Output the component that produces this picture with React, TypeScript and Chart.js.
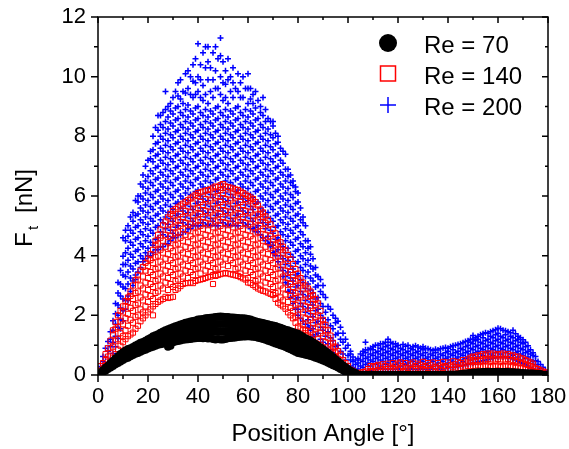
import React, { useEffect, useRef } from 'react';
import { Chart, registerables } from 'chart.js';

Chart.register(...registerables);

const X_MIN = 0;
const X_MAX = 180;
const X_STEP = 20;
const X_MINOR = 10;
const Y_MIN = 0;
const Y_MAX = 12;
const Y_STEP = 2;
const Y_MINOR = 1;

const seriesLabels = ['Re = 70', 'Re = 140', 'Re = 200'];
const xTitle = 'Position Angle [°]';
const yTitleMain = 'F';
const yTitleSub = 't';
const yTitleUnit = '[nN]';

// [position angle in degrees, tangential force values in nN]
const re70: [number, number[]][] = [
  [1,[0.07]],[2,[0.1,0.16]],[3,[0.14,0.24]],[4,[0.2,0.31]],[5,[0.25,0.39,0.33]],
  [6,[0.3,0.47,0.38]],[7,[0.36,0.55,0.46]],[8,[0.4,0.62,0.52]],[9,[0.45,0.7,0.58]],[10,[0.5,0.76,0.63]],
  [11,[0.55,0.82,0.68]],[12,[0.58,0.87,0.73]],[13,[0.63,0.9,0.77]],[14,[0.67,0.94,0.8]],[15,[0.71,0.99,0.85]],
  [16,[0.74,1.03,0.88]],[17,[0.78,1.08,0.93]],[18,[0.82,1.11,0.97]],[19,[0.85,1.15,1.0]],[20,[0.89,1.2,1.05]],
  [21,[0.92,1.24,1.08]],[22,[0.95,1.3,1.12]],[23,[0.98,1.33,1.16]],[24,[1.01,1.37,1.2]],[25,[1.03,1.42,1.22]],
  [26,[1.05,1.46,1.26]],[27,[1.07,1.5,1.29]],[28,[0.95,1.53,1.15,1.34]],[29,[0.98,1.57,1.18,1.38]],[30,[1.1,1.6,1.28,1.45]],
  [31,[1.12,1.63,1.3,1.47]],[32,[1.14,1.66,1.33,1.5]],[33,[1.16,1.69,1.35,1.52]],[34,[1.18,1.72,1.37,1.55]],[35,[1.19,1.75,1.39,1.57]],
  [36,[1.2,1.77,1.4,1.59]],[37,[1.21,1.79,1.41,1.61]],[38,[1.22,1.81,1.42,1.63]],[39,[1.23,1.83,1.43,1.64]],[40,[1.24,1.86,1.45,1.66]],
  [41,[1.24,1.87,1.45,1.67]],[42,[1.23,1.88,1.46,1.68]],[43,[1.24,1.9,1.47,1.69]],[44,[1.22,1.91,1.46,1.69]],[45,[1.23,1.92,1.47,1.7]],
  [46,[1.21,1.93,1.46,1.7]],[47,[1.19,1.94,1.45,1.7]],[48,[1.21,1.95,1.46,1.71]],[49,[1.19,1.96,1.45,1.71]],[50,[1.19,1.95,1.45,1.71]],
  [51,[1.21,1.94,1.46,1.71]],[52,[1.23,1.94,1.47,1.71]],[53,[1.24,1.93,1.48,1.71]],[54,[1.25,1.93,1.49,1.71]],[55,[1.26,1.92,1.49,1.71]],
  [56,[1.27,1.91,1.5,1.71]],[57,[1.28,1.9,1.5,1.7]],[58,[1.29,1.9,1.5,1.7]],[59,[1.29,1.89,1.5,1.7]],[60,[1.3,1.88,1.5,1.69]],
  [61,[1.29,1.86,1.49,1.68]],[62,[1.28,1.83,1.48,1.66]],[63,[1.27,1.8,1.46,1.64]],[64,[1.25,1.78,1.44,1.62]],[65,[1.23,1.76,1.42,1.6]],
  [66,[1.21,1.74,1.4,1.58]],[67,[1.18,1.72,1.37,1.55]],[68,[1.15,1.7,1.34,1.52]],[69,[1.12,1.68,1.31,1.5]],[70,[1.09,1.66,1.29,1.48]],
  [71,[1.06,1.64,1.26,1.45]],[72,[1.03,1.61,1.23,1.42]],[73,[1.0,1.58,1.2,1.39]],[74,[0.97,1.55,1.17,1.36]],[75,[0.94,1.52,1.14,1.33]],
  [76,[0.9,1.5,1.1,1.3]],[77,[0.86,1.47,1.06,1.27]],[78,[0.82,1.44,1.03,1.24]],[79,[0.78,1.41,0.99,1.2]],[80,[0.74,1.38,0.95,1.17]],
  [81,[0.72,1.33,0.92,1.13]],[82,[0.7,1.28,0.89,1.09]],[83,[0.68,1.23,0.86,1.05]],[84,[0.66,1.19,0.84,1.01]],[85,[0.64,1.15,0.81,0.98]],
  [86,[0.61,1.1,0.78,0.94]],[87,[0.58,1.04,0.74,0.89]],[88,[0.55,0.98,0.7,0.84]],[89,[0.52,0.92,0.66,0.79]],[90,[0.49,0.86,0.62,0.74]],
  [91,[0.45,0.8,0.58,0.69]],[92,[0.41,0.74,0.52,0.63]],[93,[0.37,0.67,0.52]],[94,[0.33,0.6,0.46]],[95,[0.29,0.53,0.41]],
  [96,[0.25,0.46,0.35]],[97,[0.2,0.39,0.3]],[98,[0.16,0.32,0.24]],[99,[0.12,0.26,0.19]],[100,[0.08,0.2,0.14]],
  [101,[0.06,0.14]],[102,[0.04,0.1]],[103,[0.03,0.07]],[104,[0.01]],[105,[0.01]],[106,[0.0]],[107,[0.01]],[108,[0.0]],[109,[0.01]],[110,[0.0]],
  [111,[0.01]],[112,[0.0]],[113,[0.01]],[114,[0.0]],[115,[0.01]],[116,[0.0]],[117,[0.01]],[118,[0.0]],[119,[0.01]],[120,[0.0]],
  [121,[0.01]],[122,[0.0]],[123,[0.01]],[124,[0.0]],[125,[0.01]],[126,[0.0]],[127,[0.01]],[128,[0.0]],[129,[0.01]],[130,[0.0]],
  [131,[0.01]],[132,[0.0]],[133,[0.01]],[134,[0.0]],[135,[0.01]],[136,[0.0]],[137,[0.01]],[138,[0.0]],[139,[0.01]],[140,[0.01]],
  [141,[0.02]],[142,[0.01]],[143,[0.02]],[144,[0.02]],[145,[0.03]],[146,[0.02,0.04]],[147,[0.03,0.05]],[148,[0.03,0.06]],[149,[0.03,0.07]],[150,[0.03,0.08]],
  [151,[0.04,0.08]],[152,[0.03,0.09]],[153,[0.04,0.09]],[154,[0.03,0.1]],[155,[0.04,0.1]],[156,[0.03,0.1]],[157,[0.04,0.1]],[158,[0.03,0.1]],[159,[0.04,0.1]],[160,[0.03,0.1]],
  [161,[0.04,0.1]],[162,[0.03,0.1]],[163,[0.04,0.1]],[164,[0.03,0.1]],[165,[0.04,0.09]],[166,[0.03,0.09]],[167,[0.04,0.08]],[168,[0.03,0.08]],[169,[0.03,0.07]],[170,[0.03,0.07]],
  [171,[0.02,0.06]],[172,[0.02,0.06]],[173,[0.02,0.05]],[174,[0.02,0.05]],[175,[0.02,0.04]],[176,[0.01,0.04]],[177,[0.01,0.03]],[178,[0.01]],[179,[0.01]],
];

const re140: [number, number[]][] = [
  [1,[0.15,0.3]],[2,[0.2,0.4]],[3,[0.3,0.5,0.7]],[4,[0.35,0.62,0.9]],[5,[0.45,0.65,0.9,1.15]],
  [6,[0.58,0.95,1.35,1.5]],[7,[0.7,1.15,1.55,1.78]],[8,[0.85,1.2,1.6,2.0]],[9,[0.98,1.4,1.8,2.15]],[10,[1.1,1.3,1.7,2.1,2.3]],
  [11,[1.2,1.5,1.9,2.3,2.48]],[12,[1.3,1.65,2.05,2.45,2.6]],[13,[1.36,1.85,2.25,2.65,2.8]],[14,[1.42,1.75,2.15,2.55,3.0]],[15,[1.55,1.95,2.35,2.75,3.18]],
  [16,[1.65,2.0,2.4,2.8,3.2,3.34]],[17,[1.8,2.2,2.6,3.0,3.5]],[18,[1.9,2.1,2.5,2.9,3.3,3.62]],[19,[2.0,2.3,2.7,3.1,3.5,3.76]],[20,[2.1,2.45,2.85,3.25,3.65,3.9]],
  [21,[2.2,2.65,3.05,3.45,3.85,4.05]],[22,[2.0,2.3,2.55,2.95,3.35,3.75,4.2]],[23,[2.38,2.75,3.15,3.55,3.95,4.35,4.5]],[24,[2.45,2.8,3.2,3.6,4.0,4.4,4.7]],[25,[2.5,3.0,3.4,3.8,4.2,4.6,4.88]],
  [26,[2.55,2.9,3.3,3.7,4.1,4.5,5.02]],[27,[2.62,3.1,3.5,3.9,4.3,4.7,5.15]],[28,[2.58,2.85,3.25,3.65,4.05,4.45,4.85,5.28]],[29,[2.6,3.05,3.45,3.85,4.25,4.65,5.05,5.4]],[30,[2.62,2.95,3.35,3.75,4.15,4.55,4.95,5.35,5.5]],
  [31,[2.85,3.15,3.55,3.95,4.35,4.75,5.15,5.56]],[32,[2.9,3.2,3.6,4.0,4.4,4.8,5.2,5.62]],[33,[2.98,3.4,3.8,4.2,4.6,5.0,5.4,5.68]],[34,[3.05,3.3,3.7,4.1,4.5,4.9,5.3,5.74]],[35,[3.08,3.5,3.9,4.3,4.7,5.1,5.5,5.8]],
  [36,[3.08,3.25,3.65,4.05,4.45,4.85,5.25,5.65,5.86]],[37,[3.1,3.45,3.85,4.25,4.65,5.05,5.45,5.92]],[38,[3.08,3.35,3.75,4.15,4.55,4.95,5.35,5.75,5.98]],[39,[3.15,3.55,3.95,4.35,4.75,5.15,5.55,6.04]],[40,[3.18,3.6,4.0,4.4,4.8,5.2,5.6,6.0,6.1]],
  [41,[3.2,3.4,3.8,4.2,4.6,5.0,5.4,5.8,6.12]],[42,[3.22,3.7,4.1,4.5,4.9,5.3,5.7,6.15]],[43,[3.25,3.5,3.9,4.3,4.7,5.1,5.5,5.9,6.18]],[44,[3.28,3.65,4.05,4.45,4.85,5.25,5.65,6.05,6.2]],[45,[3.3,3.45,3.85,4.25,4.65,5.05,5.45,5.85,6.22]],
  [46,[3.05,3.35,3.75,4.15,4.55,4.95,5.35,5.75,6.15,6.28]],[47,[3.32,3.55,3.95,4.35,4.75,5.15,5.55,5.95,6.32]],[48,[3.35,3.6,4.0,4.4,4.8,5.2,5.6,6.0,6.3]],[49,[3.38,3.8,4.2,4.6,5.0,5.4,5.8,6.2,6.36]],[50,[3.4,3.7,4.1,4.5,4.9,5.3,5.7,6.1,6.4]],
  [51,[3.42,3.9,4.3,4.7,5.1,5.5,5.9,6.32]],[52,[3.4,3.65,4.05,4.45,4.85,5.25,5.65,6.05,6.3]],[53,[3.38,3.85,4.25,4.65,5.05,5.45,5.85,6.28]],[54,[3.36,3.75,4.15,4.55,4.95,5.35,5.75,6.15,6.25]],[55,[3.34,3.55,3.95,4.35,4.75,5.15,5.55,5.95,6.22]],
  [56,[3.32,3.6,4.0,4.4,4.8,5.2,5.6,6.0,6.2]],[57,[3.28,3.4,3.8,4.2,4.6,5.0,5.4,5.8,6.15]],[58,[3.24,3.7,4.1,4.5,4.9,5.3,5.7,6.1]],[59,[3.2,3.5,3.9,4.3,4.7,5.1,5.5,5.9,6.05]],[60,[3.1,3.25,3.65,4.05,4.45,4.85,5.25,5.65,6.0]],
  [61,[3.08,3.45,3.85,4.25,4.65,5.05,5.45,5.85,5.95]],[62,[3.02,3.35,3.75,4.15,4.55,4.95,5.35,5.75,5.9]],[63,[2.96,3.15,3.55,3.95,4.35,4.75,5.15,5.55,5.8]],[64,[2.9,3.2,3.6,4.0,4.4,4.8,5.2,5.68]],[65,[2.86,3.0,3.4,3.8,4.2,4.6,5.0,5.4,5.55]],
  [66,[2.82,3.3,3.7,4.1,4.5,4.9,5.3,5.45]],[67,[2.8,3.1,3.5,3.9,4.3,4.7,5.1,5.32]],[68,[2.76,3.25,3.65,4.05,4.45,4.85,5.2]],[69,[2.72,3.05,3.45,3.85,4.25,4.65,5.05]],[70,[2.68,2.95,3.35,3.75,4.15,4.55,4.9]],
  [71,[2.55,2.75,3.15,3.55,3.95,4.35,4.75]],[72,[2.42,2.8,3.2,3.6,4.0,4.4,4.6]],[73,[2.36,2.6,3.0,3.4,3.8,4.2,4.45]],[74,[2.3,2.5,2.9,3.3,3.7,4.1,4.3]],[75,[2.22,2.7,3.1,3.5,3.9,4.18]],
  [76,[2.1,2.45,2.85,3.25,3.65,4.02]],[77,[2.0,2.25,2.65,3.05,3.45,3.88]],[78,[1.9,2.15,2.55,2.95,3.35,3.72]],[79,[1.75,1.95,2.35,2.75,3.15,3.55]],[80,[1.62,2.0,2.4,2.8,3.2,3.4]],
  [81,[1.56,1.8,2.2,2.6,3.0,3.25]],[82,[1.5,1.7,2.1,2.5,2.9,3.1]],[83,[1.4,1.5,1.9,2.3,2.7,3.0]],[84,[1.32,1.65,2.05,2.45,2.9]],[85,[1.25,1.45,1.85,2.25,2.65,2.8]],
  [86,[1.16,1.35,1.75,2.15,2.55,2.68]],[87,[1.08,1.55,1.95,2.35,2.55]],[88,[1.0,1.2,1.6,2.0,2.4]],[89,[0.9,1.0,1.4,1.8,2.15]],[90,[0.8,0.9,1.3,1.7,1.85]],
  [91,[0.72,1.1,1.5,1.68]],[92,[0.65,0.85,1.25,1.5]],[93,[0.58,0.82,1.05,1.32]],[94,[0.5,0.72,0.95,1.08]],[95,[0.42,0.6,0.75,0.95]],
  [96,[0.35,0.55,0.8]],[97,[0.28,0.48,0.68]],[98,[0.2,0.35,0.5]],[99,[0.14,0.3,0.4]],[100,[0.08,0.2,0.3]],
  [101,[0.06,0.18]],[102,[0.05,0.14]],[103,[0.04]],[104,[0.06]],[105,[0.08]],[106,[0.1]],[107,[0.12]],[108,[0.06,0.2]],[109,[0.1,0.3]],[110,[0.12,0.26]],
  [111,[0.08,0.3]],[112,[0.15,0.34]],[113,[0.1,0.28]],[114,[0.18,0.36]],[115,[0.12,0.3]],[116,[0.2,0.38]],[117,[0.14,0.28]],[118,[0.2,0.4]],[119,[0.12,0.32]],[120,[0.16,0.38]],
  [121,[0.22,0.42]],[122,[0.1,0.3]],[123,[0.18,0.4]],[124,[0.24,0.12]],[125,[0.16,0.36]],[126,[0.2,0.42]],[127,[0.14,0.3]],[128,[0.22,0.38]],[129,[0.12,0.34]],[130,[0.2,0.44]],
  [131,[0.16,0.3]],[132,[0.24,0.4]],[133,[0.14,0.34]],[134,[0.2,0.42]],[135,[0.12,0.28]],[136,[0.22,0.4]],[137,[0.16,0.32]],[138,[0.24,0.44]],[139,[0.14,0.3]],[140,[0.2,0.42]],
  [141,[0.18,0.34]],[142,[0.26,0.46]],[143,[0.16,0.36]],[144,[0.24,0.44]],[145,[0.2,0.4]],[146,[0.28,0.5]],[147,[0.22,0.42]],[148,[0.3,0.52]],[149,[0.26,0.46,0.58]],[150,[0.3,0.5,0.62]],
  [151,[0.28,0.44,0.6]],[152,[0.32,0.5,0.66]],[153,[0.26,0.46,0.64]],[154,[0.3,0.52,0.7]],[155,[0.28,0.48,0.66]],[156,[0.32,0.54,0.72]],[157,[0.26,0.46,0.68]],[158,[0.3,0.52,0.72]],[159,[0.28,0.48,0.66]],[160,[0.32,0.54,0.7]],
  [161,[0.26,0.46,0.68]],[162,[0.3,0.52,0.72]],[163,[0.28,0.48,0.66]],[164,[0.32,0.54,0.7]],[165,[0.26,0.46,0.64]],[166,[0.3,0.5,0.66]],[167,[0.24,0.44,0.6]],[168,[0.28,0.48,0.62]],[169,[0.22,0.4,0.56]],[170,[0.24,0.42,0.55]],
  [171,[0.2,0.36,0.5]],[172,[0.18,0.34,0.46]],[173,[0.16,0.3,0.42]],[174,[0.14,0.28,0.38]],[175,[0.12,0.24]],[176,[0.1,0.2]],[177,[0.08,0.16]],[178,[0.06,0.12]],[179,[0.04,0.09]],
];

const re200: [number, number[]][] = [
  [1,[0.12,0.28]],[2,[0.22,0.45,0.62]],[3,[0.35,0.6,0.9]],[4,[0.42,0.8,1.12]],[5,[0.55,0.95,1.2,1.45]],
  [6,[0.72,1.1,1.5,1.82]],[7,[0.95,1.3,1.7,2.05,2.4]],[8,[1.22,1.6,2.0,2.35,2.75,3.1]],[9,[1.55,1.85,2.25,2.65,3.05,3.5]],[10,[1.82,2.15,2.55,2.95,3.35,3.7,3.98,4.6]],
  [11,[2.2,2.5,2.9,3.3,3.7,4.1,4.5,4.85]],[12,[2.5,2.65,3.05,3.45,3.85,4.25,4.65,5.0]],[13,[2.8,3.25,3.65,4.05,4.45,4.85,5.3]],[14,[3.0,3.15,3.55,3.95,4.35,4.75,5.15,5.45]],[15,[3.2,3.35,3.75,4.15,4.55,4.95,5.35,5.85]],
  [16,[3.45,3.8,4.2,4.6,5.0,5.4,5.8,6.0]],[17,[3.6,4.0,4.4,4.8,5.2,5.6,6.0,6.4]],[18,[3.8,3.9,4.3,4.7,5.1,5.5,5.9,6.3,6.7]],[19,[3.9,4.1,4.5,4.9,5.3,5.7,6.1,6.5,7.0]],[20,[4.0,4.25,4.65,5.05,5.45,5.85,6.25,6.65,7.2]],
  [21,[4.0,4.45,4.85,5.25,5.65,6.05,6.45,6.85,7.25,7.5]],[22,[4.1,4.35,4.75,5.15,5.55,5.95,6.35,6.75,7.15,7.55,8.0]],[23,[4.2,4.55,4.95,5.35,5.75,6.15,6.55,6.95,7.35,7.75,8.3]],[24,[4.2,4.6,5.0,5.4,5.8,6.2,6.6,7.0,7.4,7.8,8.2,8.7]],[25,[4.3,4.8,5.2,5.6,6.0,6.4,6.8,7.2,7.6,8.0,8.4,8.7]],
  [26,[4.3,4.7,5.1,5.5,5.9,6.3,6.7,7.1,7.5,7.9,8.3,8.8]],[27,[4.4,4.9,5.3,5.7,6.1,6.5,6.9,7.3,7.7,8.1,8.5,8.9,9.5]],[28,[4.4,4.65,5.05,5.45,5.85,6.25,6.65,7.05,7.45,7.85,8.25,8.65,9.0]],[29,[4.5,4.85,5.25,5.65,6.05,6.45,6.85,7.25,7.65,8.05,8.45,8.85,9.1]],[30,[4.6,4.75,5.15,5.55,5.95,6.35,6.75,7.15,7.55,7.95,8.35,8.75,9.3]],
  [31,[4.6,4.95,5.35,5.75,6.15,6.55,6.95,7.35,7.75,8.15,8.55,8.95,9.5]],[32,[4.7,5.0,5.4,5.8,6.2,6.6,7.0,7.4,7.8,8.2,8.6,9.0,9.35,9.8]],[33,[4.7,5.2,5.6,6.0,6.4,6.8,7.2,7.6,8.0,8.4,8.8,9.25,9.9]],[34,[4.8,5.1,5.5,5.9,6.3,6.7,7.1,7.5,7.9,8.3,8.7,9.1,9.5]],[35,[4.8,5.3,5.7,6.1,6.5,6.9,7.3,7.7,8.1,8.5,8.9,9.45,10.1]],
  [36,[4.9,5.05,5.45,5.85,6.25,6.65,7.05,7.45,7.85,8.25,8.65,9.05,9.6,10.2]],[37,[4.9,5.25,5.65,6.05,6.45,6.85,7.25,7.65,8.05,8.45,8.85,9.4,10.0]],[38,[5.0,5.15,5.55,5.95,6.35,6.75,7.15,7.55,7.95,8.35,8.75,9.3,9.85,10.4]],[39,[5.0,5.35,5.75,6.15,6.55,6.95,7.35,7.75,8.15,8.55,8.95,9.4,9.8,10.6]],[40,[5.0,5.4,5.8,6.2,6.6,7.0,7.4,7.8,8.2,8.6,9.0,9.5,10.0,11.1]],
  [41,[5.0,5.2,5.6,6.0,6.4,6.8,7.2,7.6,8.0,8.4,8.8,9.3,9.9,10.4]],[42,[5.1,5.5,5.9,6.3,6.7,7.1,7.5,7.9,8.3,8.7,9.2,9.7,10.8]],[43,[5.0,5.3,5.7,6.1,6.5,6.9,7.3,7.7,8.1,8.5,8.9,9.4,10.3,11.0]],[44,[5.05,5.45,5.85,6.25,6.65,7.05,7.45,7.85,8.25,8.65,9.1,9.9,10.5,11.0]],[45,[5.0,5.25,5.65,6.05,6.45,6.85,7.25,7.65,8.05,8.45,8.85,9.5,10.3]],
  [46,[5.15,5.55,5.95,6.35,6.75,7.15,7.55,7.95,8.35,8.75,9.3,9.9,10.8]],[47,[5.0,5.35,5.75,6.15,6.55,6.95,7.35,7.75,8.15,8.55,8.95,9.6,10.2,11.0]],[48,[5.0,5.4,5.8,6.2,6.6,7.0,7.4,7.8,8.2,8.6,9.0,9.6,10.6]],[49,[5.2,5.6,6.0,6.4,6.8,7.2,7.6,8.0,8.4,8.8,9.4,10.0,10.7,11.3]],[50,[5.1,5.5,5.9,6.3,6.7,7.1,7.5,7.9,8.3,8.7,9.2,9.8,10.5]],
  [51,[5.0,5.3,5.7,6.1,6.5,6.9,7.3,7.7,8.1,8.5,8.9,9.3,9.75,10.2]],[52,[5.05,5.45,5.85,6.25,6.65,7.05,7.45,7.85,8.25,8.65,9.1,9.9,10.6]],[53,[5.0,5.25,5.65,6.05,6.45,6.85,7.25,7.65,8.05,8.45,8.85,9.5,10.0]],[54,[5.15,5.55,5.95,6.35,6.75,7.15,7.55,7.95,8.35,8.75,9.3,9.8,10.3]],[55,[5.0,5.35,5.75,6.15,6.55,6.95,7.35,7.75,8.15,8.55,8.95,9.6]],
  [56,[5.0,5.4,5.8,6.2,6.6,7.0,7.4,7.8,8.2,8.6,9.0,9.5,10.1]],[57,[5.2,5.6,6.0,6.4,6.8,7.2,7.6,8.0,8.4,8.8,9.3,9.8]],[58,[5.1,5.5,5.9,6.3,6.7,7.1,7.5,7.9,8.3,8.7,9.3,10.0]],[59,[5.0,5.3,5.7,6.1,6.5,6.9,7.3,7.7,8.1,8.5,8.9,9.6]],[60,[5.05,5.45,5.85,6.25,6.65,7.05,7.45,7.85,8.25,8.65,9.1,9.6,10.1]],
  [61,[4.9,5.25,5.65,6.05,6.45,6.85,7.25,7.65,8.05,8.45,8.85,9.25,9.6]],[62,[4.9,5.15,5.55,5.95,6.35,6.75,7.15,7.55,7.95,8.35,8.75,9.1,9.4]],[63,[4.8,4.95,5.35,5.75,6.15,6.55,6.95,7.35,7.75,8.15,8.55,8.95,9.5]],[64,[4.8,5.0,5.4,5.8,6.2,6.6,7.0,7.4,7.8,8.2,8.6,9.2]],[65,[4.7,5.2,5.6,6.0,6.4,6.8,7.2,7.6,8.0,8.4,8.8,9.0]],
  [66,[4.6,5.1,5.5,5.9,6.3,6.7,7.1,7.5,7.9,8.3,8.7,9.3]],[67,[4.5,4.9,5.3,5.7,6.1,6.5,6.9,7.3,7.7,8.1,8.5,8.9]],[68,[4.4,4.65,5.05,5.45,5.85,6.25,6.65,7.05,7.45,7.85,8.25,8.6]],[69,[4.3,4.45,4.85,5.25,5.65,6.05,6.45,6.85,7.25,7.65,8.05,8.5]],[70,[4.1,4.35,4.75,5.15,5.55,5.95,6.35,6.75,7.15,7.55,7.95,8.35,8.5]],
  [71,[4.0,4.15,4.55,4.95,5.35,5.75,6.15,6.55,6.95,7.35,7.75,8.1]],[72,[3.8,4.2,4.6,5.0,5.4,5.8,6.2,6.6,7.0,7.4,7.8,8.0]],[73,[3.6,4.0,4.4,4.8,5.2,5.6,6.0,6.4,6.8,7.2,7.6]],[74,[3.3,3.5,3.9,4.3,4.7,5.1,5.5,5.9,6.3,6.7,7.1,7.5]],[75,[3.1,3.3,3.7,4.1,4.5,4.9,5.3,5.7,6.1,6.5,6.9,7.4]],
  [76,[2.8,3.05,3.45,3.85,4.25,4.65,5.05,5.45,5.85,6.25,6.65,6.9]],[77,[2.6,2.85,3.25,3.65,4.05,4.45,4.85,5.25,5.65,6.05,6.45,6.7]],[78,[2.4,2.75,3.15,3.55,3.95,4.35,4.75,5.15,5.55,5.95,6.35,6.5]],[79,[2.2,2.55,2.95,3.35,3.75,4.15,4.55,4.95,5.35,5.75,6.15,6.3]],[80,[2.0,2.2,2.6,3.0,3.4,3.8,4.2,4.6,5.0,5.4,5.8,6.1]],
  [81,[1.9,2.4,2.8,3.2,3.6,4.0,4.4,4.8,5.2,5.6]],[82,[1.8,2.3,2.7,3.1,3.5,3.9,4.3,4.7,5.1,5.3]],[83,[1.7,2.1,2.5,2.9,3.3,3.7,4.1,4.5,5.0]],[84,[1.6,1.85,2.25,2.65,3.05,3.45,3.85,4.25,4.5]],[85,[1.5,1.65,2.05,2.45,2.85,3.25,3.65,4.05,4.3]],
  [86,[1.3,1.55,1.95,2.35,2.75,3.15,3.55,3.9]],[87,[1.1,1.35,1.75,2.15,2.55,2.95,3.35,3.6]],[88,[1.0,1.4,1.8,2.2,2.6,3.0,3.3]],[89,[0.9,1.2,1.6,2.0,2.4,2.8,3.2]],[90,[0.8,1.1,1.5,1.9,2.3,2.7,3.0]],
  [91,[0.7,0.9,1.3,1.7,2.1,2.6]],[92,[0.6,0.82,1.05,1.45,1.85,2.3]],[93,[0.5,0.85,1.25,1.65,2.2]],[94,[0.4,0.75,1.15,1.55,2.0]],[95,[0.3,0.55,0.95,1.35,1.75,1.9]],
  [96,[0.25,0.6,1.0,1.4,1.8]],[97,[0.2,0.4,0.8,1.2,1.6]],[98,[0.1,0.3,0.7,1.1,1.4]],[99,[0.08,0.28,0.5,0.9,1.2]],[100,[0.05,0.25,0.65,1.0]],
  [101,[0.05,0.3,0.5,0.7,0.8]],[102,[0.05,0.25,0.45,0.6]],[103,[0.02,0.15,0.35,0.5]],[104,[0.05,0.2,0.4,0.55]],[105,[0.05,0.3,0.5,0.7]],
  [106,[0.1,0.25,0.45,0.65,0.8]],[107,[0.1,0.35,0.55,0.75,0.85,1.1]],[108,[0.15,0.4,0.6,0.85]],[109,[0.15,0.3,0.5,0.7,0.9]],[110,[0.2,0.45,0.65,0.85,0.95]],
  [111,[0.2,0.35,0.55,0.75,1.0]],[112,[0.2,0.4,0.6,0.8,1.0]],[113,[0.2,0.3,0.5,0.7,0.9,1.05]],[114,[0.2,0.45,0.65,0.85,1.05]],[115,[0.2,0.35,0.55,0.75,0.95,1.1]],
  [116,[0.2,0.4,0.6,0.8,1.0,1.2]],[117,[0.2,0.3,0.5,0.7,0.9,1.1]],[118,[0.2,0.45,0.65,0.85,1.05]],[119,[0.2,0.35,0.55,0.75,0.95,1.05]],[120,[0.2,0.4,0.6,0.8,1.0]],
  [121,[0.2,0.3,0.5,0.7,0.9]],[122,[0.2,0.45,0.65,0.85,1.02]],[123,[0.2,0.35,0.55,0.75,0.96]],[124,[0.2,0.4,0.6,0.8,1.0]],[125,[0.2,0.3,0.5,0.7,0.9]],
  [126,[0.2,0.45,0.65,0.85,0.95]],[127,[0.2,0.35,0.55,0.75,0.98]],[128,[0.2,0.4,0.6,0.8,0.94]],[129,[0.2,0.3,0.5,0.7,0.9]],[130,[0.2,0.45,0.65,0.85,0.95]],
  [131,[0.2,0.35,0.55,0.75,0.9]],[132,[0.2,0.4,0.6,0.88]],[133,[0.2,0.3,0.5,0.7,0.85]],[134,[0.2,0.45,0.65,0.82]],[135,[0.2,0.35,0.55,0.75,0.86]],
  [136,[0.2,0.4,0.6,0.84]],[137,[0.2,0.3,0.5,0.7,0.88]],[138,[0.2,0.45,0.65,0.9]],[139,[0.22,0.35,0.55,0.75,0.92]],[140,[0.24,0.4,0.6,0.8,0.9]],
  [141,[0.25,0.5,0.7,0.95]],[142,[0.25,0.45,0.65,0.85,0.98]],[143,[0.26,0.35,0.55,0.75,1.0]],[144,[0.28,0.4,0.6,0.8,1.02]],[145,[0.3,0.5,0.7,0.9,1.05]],
  [146,[0.32,0.45,0.65,0.85,1.08]],[147,[0.34,0.55,0.75,0.95,1.12]],[148,[0.36,0.6,0.8,1.0,1.15]],[149,[0.38,0.5,0.7,0.9,1.1,1.2]],[150,[0.4,0.65,0.85,1.05,1.2,1.32]],
  [151,[0.42,0.55,0.75,0.95,1.15,1.25]],[152,[0.44,0.6,0.8,1.0,1.2,1.3]],[153,[0.46,0.7,0.9,1.1,1.35]],[154,[0.48,0.65,0.85,1.05,1.25,1.38]],[155,[0.5,0.75,0.95,1.15,1.42]],
  [156,[0.52,0.6,0.8,1.0,1.2,1.4]],[157,[0.54,0.7,0.9,1.1,1.3,1.45]],[158,[0.56,0.65,0.85,1.05,1.25,1.48]],[159,[0.58,0.75,0.95,1.15,1.35,1.52]],[160,[0.6,0.8,1.0,1.2,1.4,1.57]],
  [161,[0.6,0.7,0.9,1.1,1.3,1.55]],[162,[0.6,0.85,1.05,1.25,1.5]],[163,[0.6,0.75,0.95,1.15,1.35,1.48]],[164,[0.58,0.8,1.0,1.2,1.45]],[165,[0.56,0.7,0.9,1.1,1.3,1.42]],
  [166,[0.54,0.65,0.85,1.05,1.25,1.5]],[167,[0.5,0.75,0.95,1.15,1.38]],[168,[0.46,0.6,0.8,1.0,1.2,1.3]],[169,[0.42,0.5,0.7,0.9,1.1,1.25]],[170,[0.38,0.65,0.85,1.05,1.18]],
  [171,[0.34,0.55,0.75,0.95,1.1]],[172,[0.3,0.4,0.6,0.8,0.98]],[173,[0.25,0.5,0.7,0.85]],[174,[0.2,0.45,0.65,0.75]],[175,[0.15,0.35,0.48,0.62]],
  [176,[0.12,0.28,0.45]],[177,[0.08,0.22,0.35]],[178,[0.05,0.15,0.26]],[179,[0.04,0.15]],
];

const FONT = "'Liberation Sans', Arial, Helvetica, sans-serif";

function toPoints(cols: [number, number[]][]) {
  const pts: { x: number; y: number }[] = [];
  for (const [a, vs] of cols) for (const v of vs) pts.push({ x: a, y: v });
  return pts;
}

const framePlugin = {
  id: 'originFrame',
  afterDatasetsDraw(chart: any) {
    const { ctx, chartArea: ca, scales } = chart;
    const xs = scales.x;
    const ys = scales.y;
    ctx.save();
    ctx.strokeStyle = '#000';
    ctx.lineWidth = 1.5;
    ctx.beginPath();
    for (let v = X_MIN; v <= X_MAX; v += X_MINOR) {
      const px = xs.getPixelForValue(v);
      const major = v % X_STEP === 0;
      ctx.moveTo(px, ca.bottom);
      ctx.lineTo(px, ca.bottom + (major ? 7 : 4));
      ctx.moveTo(px, ca.top);
      ctx.lineTo(px, ca.top + (major ? 6 : 3));
    }
    for (let v = Y_MIN; v <= Y_MAX; v += Y_MINOR) {
      const py = ys.getPixelForValue(v);
      const major = v % Y_STEP === 0;
      ctx.moveTo(ca.left, py);
      ctx.lineTo(ca.left - (major ? 7 : 4), py);
      ctx.moveTo(ca.right, py);
      ctx.lineTo(ca.right - (major ? 6 : 3), py);
    }
    ctx.stroke();
    ctx.strokeRect(ca.left, ca.top, ca.right - ca.left, ca.bottom - ca.top);

    ctx.fillStyle = '#000';
    ctx.font = `24px ${FONT}`;
    ctx.textAlign = 'center';
    ctx.textBaseline = 'alphabetic';
    ctx.fillText(xTitle, (ca.left + ca.right) / 2, ca.bottom + 66);

    ctx.save();
    ctx.translate(32, 247);
    ctx.rotate(-Math.PI / 2);
    ctx.textAlign = 'left';
    ctx.font = `24px ${FONT}`;
    ctx.fillText(yTitleMain, 0, 0);
    ctx.font = `15px ${FONT}`;
    ctx.fillText(yTitleSub, 17, 6);
    ctx.font = `24px ${FONT}`;
    ctx.fillText(yTitleUnit, 34, 0);
    ctx.restore();

    const lx = ca.right - 160;
    const rows = [ca.top + 26, ca.top + 56.5, ca.top + 88];
    chart.data.datasets.forEach((ds: any, i: number) => {
      const cy = rows[i];
      ctx.save();
      if (ds.pointStyle === 'circle') {
        ctx.fillStyle = ds.pointBackgroundColor;
        ctx.beginPath();
        ctx.arc(lx, cy, 9, 0, Math.PI * 2);
        ctx.fill();
      } else if (ds.pointStyle === 'rect') {
        ctx.strokeStyle = ds.pointBorderColor;
        ctx.lineWidth = 1.5;
        ctx.strokeRect(lx - 7.5, cy - 7.5, 15, 15);
      } else {
        ctx.strokeStyle = ds.pointBorderColor;
        ctx.lineWidth = 1.5;
        ctx.beginPath();
        ctx.moveTo(lx - 8, cy);
        ctx.lineTo(lx + 8, cy);
        ctx.moveTo(lx, cy - 8);
        ctx.lineTo(lx, cy + 8);
        ctx.stroke();
      }
      ctx.restore();
      ctx.fillStyle = '#000';
      ctx.font = `24px ${FONT}`;
      ctx.textAlign = 'left';
      ctx.textBaseline = 'alphabetic';
      ctx.fillText(ds.label, lx + 36, cy + 10);
    });
    ctx.restore();
  },
};

export default function App() {
  const canvasRef = useRef<HTMLCanvasElement | null>(null);

  useEffect(() => {
    if (!canvasRef.current) return;
    const tickFont = { family: FONT, size: 22 };
    const chart = new Chart(canvasRef.current, {
      type: 'scatter',
      data: {
        datasets: [
          {
            label: seriesLabels[0],
            data: toPoints(re70),
            pointStyle: 'circle',
            pointRadius: 4,
            pointBorderWidth: 0,
            pointBackgroundColor: '#000000',
            pointBorderColor: '#000000',
          },
          {
            label: seriesLabels[1],
            data: toPoints(re140),
            pointStyle: 'rect',
            pointRadius: 3.6,
            pointBorderWidth: 1,
            pointBackgroundColor: 'rgba(0,0,0,0)',
            pointBorderColor: '#ff0000',
          },
          {
            label: seriesLabels[2],
            data: toPoints(re200),
            pointStyle: 'cross',
            pointRadius: 3,
            pointBorderWidth: 1.5,
            pointBackgroundColor: '#0000ff',
            pointBorderColor: '#0000ff',
          },
        ],
      } as any,
      options: {
        animation: false,
        responsive: false,
        maintainAspectRatio: false,
        events: [],
        layout: { autoPadding: false, padding: { top: 17, right: 21, left: 0, bottom: 0 } },
        plugins: {
          legend: { display: false },
          tooltip: { enabled: false },
          title: { display: false },
        },
        scales: {
          x: {
            type: 'linear',
            min: X_MIN,
            max: X_MAX,
            ticks: { stepSize: X_STEP, font: tickFont, color: '#000', padding: 9, maxRotation: 0, autoSkip: false },
            grid: { display: false, drawTicks: false, tickLength: 0 },
            border: { display: false },
            afterFit: (s: any) => {
              s.height = 74;
              s.paddingLeft = 0;
              s.paddingRight = 0;
              s.paddingTop = 0;
              s.paddingBottom = 0;
            },
          },
          y: {
            type: 'linear',
            min: Y_MIN,
            max: Y_MAX,
            ticks: { stepSize: Y_STEP, font: tickFont, color: '#000', padding: 12, autoSkip: false },
            grid: { display: false, drawTicks: false, tickLength: 0 },
            border: { display: false },
            afterFit: (s: any) => {
              s.width = 98;
              s.paddingLeft = 0;
              s.paddingRight = 0;
              s.paddingTop = 0;
              s.paddingBottom = 0;
            },
          },
        },
      } as any,
      plugins: [framePlugin],
    });
    return () => chart.destroy();
  }, []);

  return (
    <div style={{ position: 'absolute', left: 0, top: 0, width: 569, height: 449, background: '#fff' }}>
      <canvas ref={canvasRef} width={569} height={449} style={{ width: 569, height: 449, display: 'block' }} />
    </div>
  );
}
